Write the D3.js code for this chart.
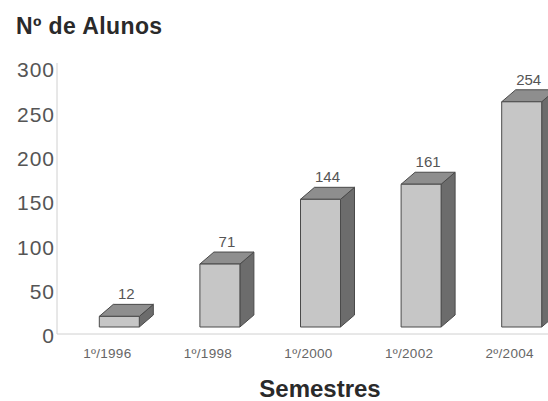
<!DOCTYPE html>
<html>
<head>
<meta charset="utf-8">
<script src="https://cdn.jsdelivr.net/npm/d3@7"></script>
<style>
	body { margin: 0; background: #fff; }
	svg { display: block; }
</style>
</head>
<body>
<main></main>
<script>
// semesters and number of students
const semestres = ["1º/1996", "1º/1998", "1º/2000", "1º/2002", "2º/2004"];
const alunos = [12, 71, 144, 161, 254];
const yTicks = [0, 50, 100, 150, 200, 250, 300];

let drawChart = (width=548, height=401) => {
	const w = width;
	const h = height;
	const margin = ({top: 61, right: 0, bottom: 74, left: 57});
	const depth = {dx: 14, dy: 12}; // fake 3d offset
	const frontW = 40;

	let xScale = d3.scaleBand()
		.domain(semestres)
		.range([margin.left, margin.left + 5 * 100.6]);

	let yScale = d3.scaleLinear()
		.domain([0, 300])
		.range([h - margin.bottom, margin.top]);

	let svg = d3.select("main")
		.append("svg")
		.attr("width", w)
		.attr("height", h)
		.attr("font-family", "Liberation Sans, Arial, sans-serif");

	// axis lines
	svg.append("line")
		.attr("x1", margin.left).attr("x2", margin.left)
		.attr("y1", margin.top + 2).attr("y2", yScale(0) + 7)
		.attr("stroke", "#d0d0d0");
	svg.append("line")
		.attr("x1", margin.left).attr("x2", w)
		.attr("y1", yScale(0) + 7).attr("y2", yScale(0) + 7)
		.attr("stroke", "#d0d0d0");

	// y tick labels (sit a bit lower than the bar floor)
	svg.append("g")
		.selectAll("text")
		.data(yTicks)
		.join("text")
			.attr("x", 55)
			.attr("y", d => yScale(d) + 9)
			.attr("dy", "0.35em")
			.attr("text-anchor", "end")
			.attr("font-size", 21)
			.attr("letter-spacing", 1)
			.attr("fill", "#555")
			.text(d => d);

	// x tick labels
	svg.append("g")
		.selectAll("text")
		.data(semestres)
		.join("text")
			.attr("x", d => xScale(d) + xScale.bandwidth() / 2)
			.attr("y", 353)
			.attr("dy", "0.35em")
			.attr("text-anchor", "middle")
			.attr("font-size", 13.5)
			.attr("letter-spacing", 0.3)
			.attr("fill", "#666")
			.text(d => d);

	let data = semestres.map((s, i) => ({s, v: alunos[i]}));
	let x0 = d => xScale(d.s) + xScale.bandwidth() / 2 - 8;

	let bars = svg.append("g")
		.selectAll("g")
		.data(data)
		.join("g")
			.attr("stroke", "#4a4a4a")
			.attr("stroke-width", 1)
			.attr("stroke-linejoin", "round");

	// side face
	bars.append("path")
		.attr("fill", "#6c6c6c")
		.attr("d", d => {
			let x = x0(d) + frontW, yt = yScale(d.v), yb = yScale(0);
			return `M${x},${yt}L${x + depth.dx},${yt - depth.dy}L${x + depth.dx},${yb - depth.dy}L${x},${yb}Z`;
		});

	// top face
	bars.append("path")
		.attr("fill", "#8e8e8e")
		.attr("d", d => {
			let x = x0(d), yt = yScale(d.v);
			return `M${x},${yt}L${x + depth.dx},${yt - depth.dy}L${x + frontW + depth.dx},${yt - depth.dy}L${x + frontW},${yt}Z`;
		});

	// front face
	bars.append("rect")
		.attr("fill", "#c6c6c6")
		.attr("x", d => x0(d))
		.attr("y", d => yScale(d.v))
		.attr("width", frontW)
		.attr("height", d => yScale(0) - yScale(d.v));

	// value labels
	svg.append("g")
		.selectAll("text")
		.data(data)
		.join("text")
			.attr("x", d => x0(d) + (frontW + depth.dx) / 2)
			.attr("y", d => yScale(d.v) - depth.dy - 5)
			.attr("text-anchor", "middle")
			.attr("font-size", 15)
			.attr("fill", "#555")
			.text(d => d.v);

	// titles
	svg.append("text")
		.attr("x", 16)
		.attr("y", 34)
		.attr("font-size", 23)
		.attr("font-weight", "bold")
		.attr("letter-spacing", 0.4)
		.attr("fill", "#2a2a2a")
		.text("Nº de Alunos");

	svg.append("text")
		.attr("x", 320)
		.attr("y", 397)
		.attr("text-anchor", "middle")
		.attr("font-size", 24)
		.attr("font-weight", "bold")
		.attr("fill", "#2a2a2a")
		.text("Semestres");
};

drawChart();
</script>
</body>
</html>
